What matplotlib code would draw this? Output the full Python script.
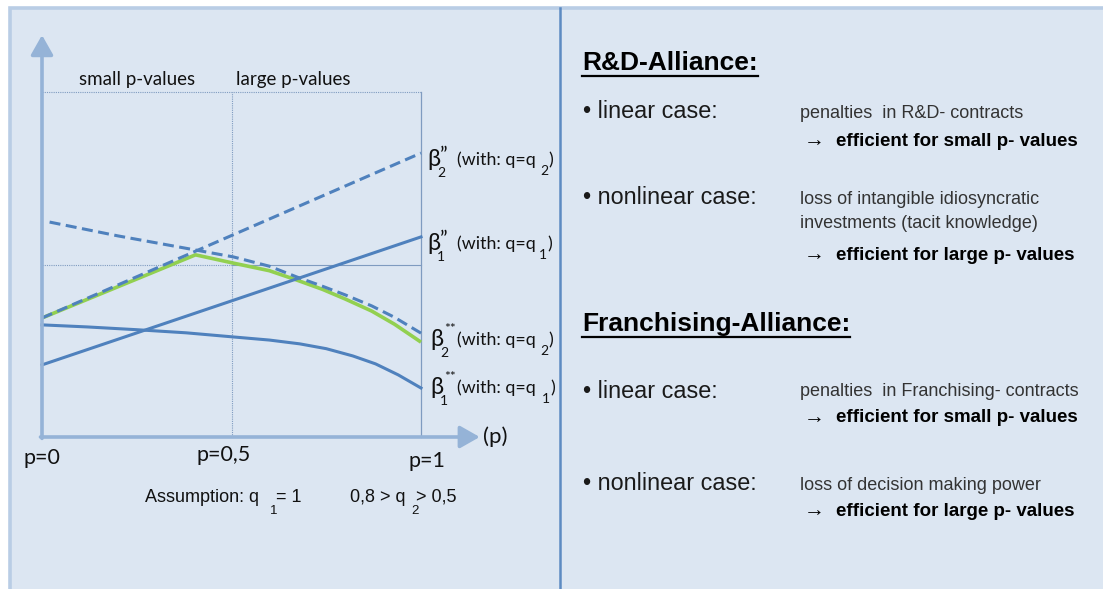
import numpy as np
import matplotlib.pyplot as plt
from matplotlib.patches import Rectangle

# Curve data (p on x axis, value scaled so the top guide line is 1.0)
p_lin = [0.0, 1.0]
beta2_lin = [0.345, 0.823]   # beta2'' dashed, q = q2
beta1_lin = [0.209, 0.580]   # beta1'' solid, q = q1

p_b2 = [0.02, 0.2, 0.405, 0.505, 0.60, 0.672, 0.74, 0.80, 0.87, 0.93, 1.0]
beta2_nl = [0.623, 0.583, 0.542, 0.522, 0.495, 0.464, 0.437, 0.412, 0.380, 0.347, 0.301]   # beta2**

p_b1 = [0.0, 0.12, 0.25, 0.38, 0.505, 0.60, 0.68, 0.75, 0.82, 0.88, 0.94, 1.0]
beta1_nl = [0.325, 0.319, 0.311, 0.302, 0.290, 0.281, 0.270, 0.256, 0.235, 0.212, 0.180, 0.142]   # beta1**

p_env = [0.0, 0.405, 0.505, 0.60, 0.672, 0.74, 0.80, 0.87, 0.93, 1.0]
envelope = [0.345, 0.528, 0.504, 0.482, 0.455, 0.428, 0.400, 0.365, 0.327, 0.275]   # green envelope

x_ticks = [0.0, 0.5, 1.0]
x_tick_labels = ["p=0", "p=0,5", "p=1"]

BLUE = "#4f81bd"
GREEN = "#92d050"
AXIS = "#95b3d7"
BG = "#dce6f2"
GUIDE = "#7f9bc0"

calibri = ["Lato", "DejaVu Sans"]
arial = ["Liberation Sans", "DejaVu Sans"]

fig = plt.figure(figsize=(11.03, 5.89), dpi=100)
fig.patch.set_facecolor("white")

# background axes in pixel coordinates
bg = fig.add_axes([0, 0, 1, 1])
bg.set_xlim(0, 1103)
bg.set_ylim(589, 0)
bg.axis("off")
bg.add_patch(Rectangle((10, 8), 1110, 600, facecolor=BG, edgecolor="#b9cde5", lw=2.6))
bg.plot([560, 560], [8, 589], color="#4f81bd", lw=1.8, alpha=0.9)

# chart axes: p=0 -> x 42px, p=1 -> x 421px, value 0 -> y 437px, 1 -> y 92px
ax = fig.add_axes([42 / 1103, (589 - 437) / 589, 379 / 1103, 345 / 589])
ax.set_xlim(0, 1)
ax.set_ylim(0, 1)
ax.axis("off")
ax.patch.set_alpha(0)

# guide lines
ax.plot([0, 1], [1, 1], color=GUIDE, lw=0.8, ls=(0, (1, 1)), clip_on=False)
ax.plot([0.5, 0.5], [0, 1], color=GUIDE, lw=0.8, ls=(0, (1, 1)), clip_on=False)
ax.plot([0, 0.5], [0.5, 0.5], color=GUIDE, lw=0.8, ls=(0, (1, 1)), clip_on=False)
ax.plot([0.5, 1], [0.5, 0.5], color=GUIDE, lw=0.8, clip_on=False)
ax.plot([1, 1], [0, 1], color=GUIDE, lw=0.9, clip_on=False)

# axes arrows
arrow = dict(arrowstyle="-|>,head_length=0.6,head_width=0.34", color=AXIS, lw=2.6,
             shrinkA=0, shrinkB=0, mutation_scale=20)
ax.annotate("", xy=(0, 1.165), xytext=(0, -0.004), annotation_clip=False, arrowprops=arrow)
ax.annotate("", xy=(1.155, 0), xytext=(-0.004, 0), annotation_clip=False, arrowprops=arrow)

# curves
ax.plot(p_env, envelope, color=GREEN, lw=2.6, clip_on=False, solid_capstyle="butt")
ax.plot(p_lin, beta2_lin, color=BLUE, lw=2.2, ls=(0, (3.6, 1.8)), clip_on=False)
ax.plot(p_b2, beta2_nl, color=BLUE, lw=2.2, ls=(0, (3.6, 1.8)), clip_on=False)
ax.plot(p_lin, beta1_lin, color=BLUE, lw=2.2, clip_on=False)
ax.plot(p_b1, beta1_nl, color=BLUE, lw=2.2, clip_on=False)

# tick labels under the x axis
tick_pos = [(42, 458), (224, 455), (427, 461)]
for (tx, ty), lab in zip(tick_pos, x_tick_labels):
    bg.text(tx, ty, lab, ha="center", va="center", fontsize=15.5, family=calibri, color="#111111")
bg.text(483, 437, "(p)", ha="left", va="center", fontsize=16, family=calibri, color="#111111")

bg.text(137, 80, "small p-values", ha="center", va="center", fontsize=13.5, family=calibri, color="#111111")
bg.text(293, 80, "large p-values", ha="center", va="center", fontsize=13.5, family=calibri, color="#111111")


def beta_label(bx, by, sup, sub, qsub, qx):
    kw = dict(family=calibri, color="#111111", va="center", ha="left")
    bg.text(bx, by, "β", fontsize=17, **kw)
    if sup == "**":
        bg.text(bx + 14, by - 10, sup, fontsize=10, **kw)
    else:
        bg.text(bx + 13, by - 3, sup, fontsize=15, **kw)
    bg.text(bx + 10, by + 14, sub, fontsize=10, **kw)
    bg.text(457, by + 1, "(with: q=q", fontsize=12.8, **kw)
    bg.text(qx, by + 12, qsub, fontsize=10, **kw)
    bg.text(qx + 8, by + 1, ")", fontsize=12.8, **kw)


beta_label(427, 159, "\u201d", "2", "2", 540)
beta_label(427, 243, "\u201d", "1", "1", 539)
beta_label(430, 339, "**", "2", "2", 540)
beta_label(430, 387, "**", "1", "1", 542)

# assumption line
akw = dict(family=arial, color="#111111", va="center", ha="left")
bg.text(145, 498, "Assumption: q", fontsize=13, **akw)
bg.text(270, 511, "1", fontsize=9.5, **akw)
bg.text(276, 497, "= 1", fontsize=13, **akw)
bg.text(350, 497, "0,8 > q", fontsize=13, **akw)
bg.text(411, 511, "2", fontsize=9.5, **akw)
bg.text(416, 497, "> 0,5", fontsize=13, **akw)

# right panel
headings = [("R&D-Alliance:", 63), ("Franchising-Alliance:", 324)]
head_texts = []
for txt, hy in headings:
    head_texts.append(bg.text(582, hy, txt, fontsize=19, weight="bold", family=arial,
                              color="black", ha="left", va="center"))

rows = [
    ("\u2022 linear case:", 112, ["penalties  in R&D- contracts"], 141, "small"),
    ("\u2022 nonlinear case:", 198, ["loss of intangible idiosyncratic", "investments (tacit knowledge)"], 255, "large"),
    ("\u2022 linear case:", 391, ["penalties  in Franchising- contracts"], 418, "small"),
    ("\u2022 nonlinear case:", 484, ["loss of decision making power"], 511, "large"),
]
for case, cy, desc, ey, size in rows:
    bg.text(583, cy, case, fontsize=16.8, family=arial, color="#1a1a1a", ha="left", va="center")
    for i, line in enumerate(desc):
        bg.text(800, cy + 1 + i * 24, line, fontsize=13, family=arial, color="#333333",
                ha="left", va="center")
    bg.text(804, ey, "\u2192", fontsize=15, family=arial, color="black", ha="left", va="center")
    bg.text(836, ey, "efficient for %s p- values" % size, fontsize=13.5, weight="bold",
            family=arial, color="black", ha="left", va="center")

# underline the headings
fig.canvas.draw()
renderer = fig.canvas.get_renderer()
for t in head_texts:
    bb = t.get_window_extent(renderer)
    y_px = 589 - bb.y0 + 1
    bg.plot([bb.x0, bb.x1], [y_px, y_px], color="black", lw=1.6)

fig.savefig("out.png", dpi=100)
